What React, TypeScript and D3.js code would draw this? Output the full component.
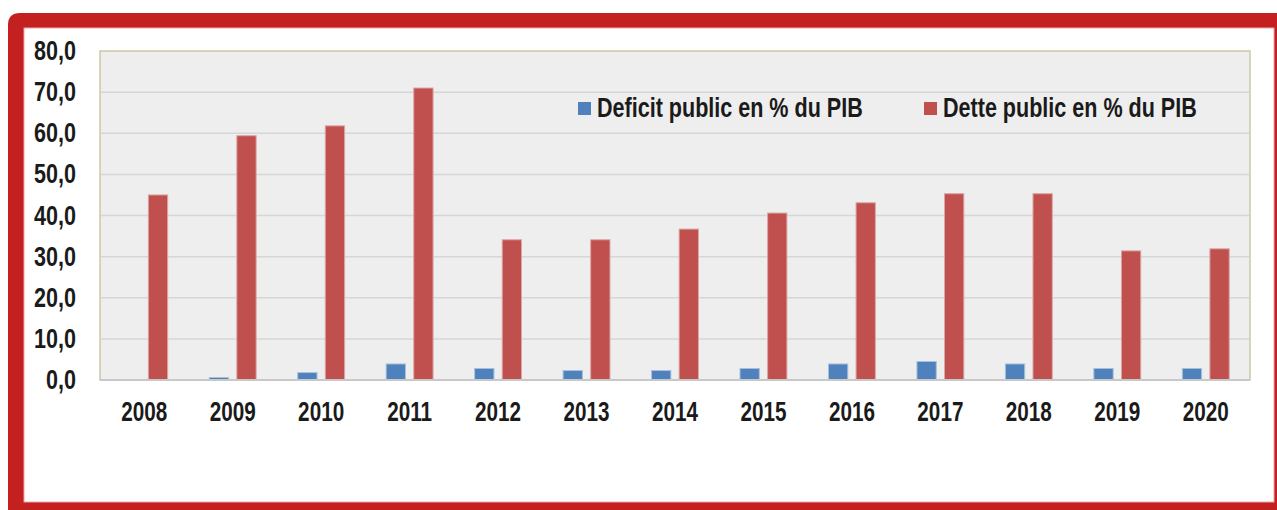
import * as d3 from "d3";

const years = ["2008", "2009", "2010", "2011", "2012", "2013", "2014", "2015", "2016", "2017", "2018", "2019", "2020"];
const deficit = [0, 0.6, 1.8, 3.9, 2.8, 2.3, 2.3, 2.8, 3.9, 4.5, 3.9, 2.8, 2.8];
const dette = [45.0, 59.4, 61.8, 71.0, 34.1, 34.1, 36.7, 40.6, 43.1, 45.3, 45.3, 31.4, 31.9];
const yTicks = [0, 10, 20, 30, 40, 50, 60, 70, 80];
const seriesNames = ["Deficit public en % du PIB", "Dette public en % du PIB"];
const colors = ["#4f81bd", "#c0504d"];
const strokes = ["#a7c0de", "#dba6a5"];

const W = 1277;
const H = 510;
const plot = { left: 100, right: 1250, top: 51, bottom: 380 };
// Arial Narrow look: Liberation Sans Bold squeezed horizontally
const font = "'Liberation Sans', Arial, sans-serif";
const fs = 28;

export default function App() {
  const x0 = d3.scaleBand<string>().domain(years).range([plot.left, plot.right]).paddingInner(0.47).paddingOuter(0.235);
  const x1 = d3.scaleBand<number>().domain([0, 1]).range([0, x0.bandwidth()]).paddingInner(0.3);
  const y = d3.scaleLinear().domain([0, 80]).range([plot.bottom, plot.top]);
  const fmt = (v: number) => d3.format(".1f")(v).replace(".", ",");
  const series = [deficit, dette];
  const cx = (yr: string) => x0(yr)! + x0.bandwidth() / 2;

  return (
    <svg width={W} height={H} style={{ position: "absolute", left: 0, top: 0 }} fontFamily={font}>
      <rect x={0} y={0} width={W} height={H} fill="#ffffff" />
      {/* red frame */}
      <path d={`M8,25 Q8,13 20,13 L${W},13 L${W},${H} L8,${H} Z`} fill="#c4201f" />
      <rect x={24} y={28} width={1250} height={474} fill="#ffffff" stroke="#e9a9a9" strokeWidth={1} />

      {/* plot area */}
      <rect x={plot.left} y={plot.top} width={plot.right - plot.left} height={plot.bottom - plot.top} fill="#eeeeee" stroke="#cdc8a8" strokeWidth={1.5} />
      {yTicks.filter((t) => t > 0 && t < 80).map((t) => (
        <line key={t} x1={plot.left + 1} x2={plot.right - 1} y1={y(t)} y2={y(t)} stroke="#d6d6d6" strokeWidth={1.5} />
      ))}

      {/* bars */}
      {series.map((vals, si) =>
        years.map((yr, i) =>
          vals[i] > 0 ? (
            <rect
              key={`${si}-${yr}`}
              x={x0(yr)! + x1(si)!}
              y={y(vals[i])}
              width={x1.bandwidth()}
              height={y(0) - y(vals[i])}
              fill={colors[si]}
              stroke={strokes[si]}
              strokeWidth={1}
            />
          ) : null
        )
      )}

      <line x1={plot.left} x2={plot.right} y1={plot.bottom} y2={plot.bottom} stroke="#c8c8c8" strokeWidth={2} />

      {/* y axis labels */}
      {yTicks.map((t) => (
        <text key={t} transform={`translate(76,${y(t) - 1}) scale(0.77,1)`} dy="0.36em" textAnchor="end" fontSize={fs} fontWeight="bold" fill="#1a1a1a">
          {fmt(t)}
        </text>
      ))}

      {/* x axis labels */}
      {years.map((yr) => (
        <text key={yr} transform={`translate(${cx(yr)},421) scale(0.74,1)`} textAnchor="middle" fontSize={fs} fontWeight="bold" fill="#1a1a1a">
          {yr}
        </text>
      ))}

      {/* legend */}
      {seriesNames.map((name, si) => {
        const lx = [578, 924][si];
        return (
          <g key={name}>
            <rect x={lx} y={102} width={13} height={13} fill={colors[si]} />
            <text transform={`translate(${lx + 19},117) scale(0.77,1)`} fontSize={fs} fontWeight="bold" fill="#1a1a1a">
              {name}
            </text>
          </g>
        );
      })}
    </svg>
  );
}
